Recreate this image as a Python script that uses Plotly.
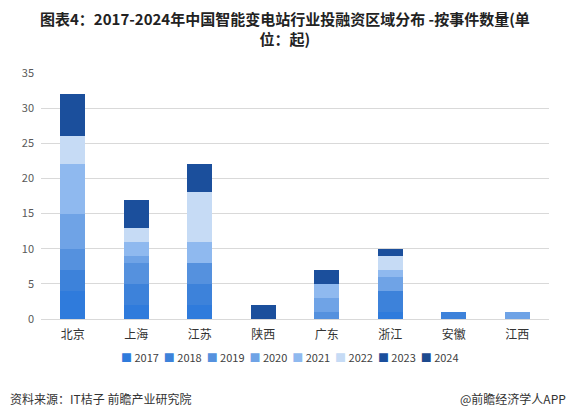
import plotly.graph_objects as go

categories = ["北京", "上海", "江苏", "陕西", "广东", "浙江", "安徽", "江西"]
years = ["2017", "2018", "2019", "2020", "2021", "2022", "2023", "2024"]
values = {
    "2017": [4, 2, 2, 0, 0, 1, 0, 0],
    "2018": [3, 3, 3, 0, 0, 3, 1, 0],
    "2019": [3, 3, 3, 0, 1, 0, 0, 0],
    "2020": [5, 1, 0, 0, 2, 2, 0, 1],
    "2021": [7, 2, 3, 0, 2, 1, 0, 0],
    "2022": [4, 2, 7, 0, 0, 2, 0, 0],
    "2023": [6, 4, 4, 2, 2, 1, 0, 0],
    "2024": [0, 0, 0, 0, 0, 0, 0, 0],
}
colors = ["#2f7bdc", "#3d82da", "#5591de", "#6fa3e6", "#8fb9ef", "#c6dbf5", "#1b4f9c", "#1d4a8e"]
y_ticks = [0, 5, 10, 15, 20, 25, 30, 35]

font_cjk = "Noto Sans CJK SC, Noto Sans, sans-serif"

fig = go.Figure()
for yr, c in zip(years, colors):
    fig.add_trace(go.Bar(
        x=categories, y=values[yr], name=yr, marker=dict(color=c, line=dict(width=0)),
    ))

fig.update_layout(
    barmode="stack",
    bargap=0.61,
    width=577, height=420,
    margin=dict(l=41, r=28, t=73, b=101),
    paper_bgcolor="white", plot_bgcolor="white",
    font=dict(family=font_cjk, color="#333333"),
    showlegend=False,
)
fig.update_xaxes(
    showgrid=False, showline=True, linecolor="#d9d9d9", linewidth=1,
    tickfont=dict(size=12, color="#333333"), ticks="", ticklabelstandoff=5,
)
fig.update_yaxes(
    range=[0, 35], tickvals=y_ticks, showgrid=True, gridcolor="#d9d9d9", gridwidth=1,
    zeroline=False, showline=False, tickfont=dict(size=11, color="#595959"), ticks="",
    ticklabelstandoff=6,
)

# title (two lines in one text)
fig.add_annotation(text="<b>图表4：2017-2024年中国智能变电站行业投融资区域分布 -按事件数量(单<br>位：起)</b>",
                   xref="paper", yref="paper", x=0.48, y=(420 - 29 - 101) / 246,
                   xanchor="center", yanchor="middle", showarrow=False, align="center",
                   font=dict(size=15, color="#222222", family=font_cjk))

# legend
legend_text = "&nbsp;&nbsp;".join(
    f"<span style='color:{c}'>■</span>&nbsp;{yr}" for yr, c in zip(years, colors)
)
fig.add_annotation(text=legend_text, xref="paper", yref="paper",
                   x=0.49, y=(420 - 357 - 101) / 246, xanchor="center", yanchor="middle",
                   showarrow=False, font=dict(size=11, color="#404040", family=font_cjk))

fig.add_annotation(text="资料来源：IT桔子 前瞻产业研究院", xref="paper", yref="paper",
                   x=-0.065, y=(420 - 398 - 101) / 246, xanchor="left", yanchor="middle", showarrow=False,
                   font=dict(size=12, color="#333333", family=font_cjk))
fig.add_annotation(text="@前瞻经济学人APP", xref="paper", yref="paper",
                   x=1.037, y=(420 - 398 - 101) / 246, xanchor="right", yanchor="middle", showarrow=False,
                   font=dict(size=12, color="#333333", family=font_cjk))

fig.write_html("out.html")
